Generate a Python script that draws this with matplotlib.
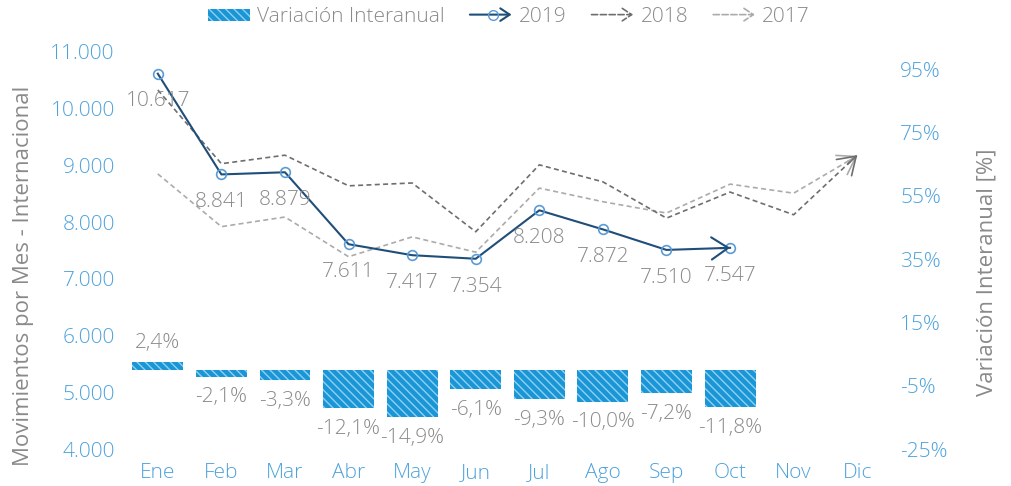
import matplotlib
matplotlib.use("Agg")
import matplotlib.pyplot as plt
from matplotlib.lines import Line2D
from matplotlib.patches import Rectangle, FancyArrowPatch
from matplotlib.legend_handler import HandlerBase
from matplotlib.ticker import FuncFormatter
import numpy as np

plt.rcParams['font.family'] = ['Open Sans', 'DejaVu Sans']
plt.rcParams['font.weight'] = 'light'
plt.rcParams['hatch.linewidth'] = 1.0

meses = ["Ene", "Feb", "Mar", "Abr", "May", "Jun", "Jul", "Ago", "Sep", "Oct", "Nov", "Dic"]
mov_2019 = [10617, 8841, 8879, 7611, 7417, 7354, 8208, 7872, 7510, 7547]
mov_2018 = [10330, 9030, 9180, 8640, 8690, 7830, 9010, 8710, 8070, 8530, 8130, 9180]
mov_2017 = [8850, 7920, 8090, 7390, 7740, 7470, 8600, 8360, 8160, 8670, 8510, 9170]
variacion = [2.4, -2.1, -3.3, -12.1, -14.9, -6.1, -9.3, -10.0, -7.2, -11.8]

AZUL_BARRA = "#1a96d6"
RAYA = "#8fd0f2"
AZUL_2019 = "#1f4e79"
AZUL_MARCA = "#5b9bd5"
GRIS_2018 = "#6e6e6e"
GRIS_2017 = "#ababab"
GRIS_TXT = "#8a8a8a"
AZUL_TICK = "#4ea2dc"
FS = 15


class ArrowHandler(HandlerBase):
    """legend entry: line ending in an open arrow head"""
    def create_artists(self, legend, orig, xd, yd, width, height, fontsize, trans):
        y = height / 2 - yd
        arts = [FancyArrowPatch((-xd, y), (-xd + width, y),
                                arrowstyle="->,head_length=0.45,head_width=0.3",
                                mutation_scale=fontsize, color=orig.get_color(),
                                lw=orig.get_linewidth(), linestyle=orig.get_linestyle(),
                                transform=trans, shrinkA=0, shrinkB=0)]
        if orig.get_marker() not in (None, "None", ""):
            arts.append(Line2D([-xd + width * 0.55], [y], marker="o", ms=orig.get_markersize(),
                               mfc="none", mec=orig.get_markeredgecolor(), ls="none",
                               transform=trans))
        return arts


fig = plt.figure(figsize=(10.12, 4.86), dpi=100)
ax = fig.add_axes([0.1245, 0.0761, 0.754, 0.817])
ax2 = ax.twinx()

x = np.arange(len(meses))

# bars on the right (percent) axis
ax2.bar(x[:len(variacion)], variacion, width=0.8, color=AZUL_BARRA, edgecolor=RAYA,
        linewidth=0, hatch="\\\\\\\\")
for i, v in enumerate(variacion):
    txt = ("%.1f%%" % v).replace(".", ",")
    off = 14 if v > 0 else -15
    ax2.annotate(txt, (i, v), xytext=(0, off), textcoords="offset points",
                 ha="center", va="center", fontsize=FS, color=GRIS_TXT)
ax2.set_ylim(-25, 100.5)
ax2.set_yticks(np.arange(-25, 96, 20))
ax2.yaxis.set_major_formatter(FuncFormatter(lambda v, p: "%d%%" % v))

# lines on the left axis, drawn above the bars
ax.set_zorder(ax2.get_zorder() + 1)
ax.patch.set_visible(False)


def linea(vals, color, ls, lw, marker=None):
    xs = x[:len(vals)]
    ax.plot(xs, vals, color=color, ls=ls, lw=lw, marker=marker, ms=7, mfc="none",
            mec=AZUL_MARCA, mew=1.2)
    # arrow head on the last point
    xa = xs[-2] + 0.85 * (xs[-1] - xs[-2])
    ya = vals[-2] + 0.85 * (vals[-1] - vals[-2])
    ax.annotate("", xy=(xs[-1], vals[-1]), xytext=(xa, ya),
                arrowprops=dict(arrowstyle="->,head_length=0.6,head_width=0.4",
                                mutation_scale=20, color=color, lw=lw,
                                shrinkA=0, shrinkB=0))


linea(mov_2017, GRIS_2017, (0, (3, 2)), 1.2)
linea(mov_2018, GRIS_2018, (0, (3, 2)), 1.2)
linea(mov_2019, AZUL_2019, "-", 1.5, marker="o")

for i, v in enumerate(mov_2019):
    ax.annotate(f"{v:,}".replace(",", "."), (i, v), xytext=(0, -20),
                textcoords="offset points", ha="center", va="center",
                fontsize=FS, color=GRIS_TXT)

ax.set_ylim(4000, 11000)
ax.set_yticks(np.arange(4000, 11001, 1000))
ax.yaxis.set_major_formatter(FuncFormatter(lambda v, p: f"{int(v):,}".replace(",", ".")))
ax.set_xlim(-0.5, 11.5)
ax.set_xticks(x)
ax.set_xticklabels(meses)

for a in (ax, ax2):
    for s in a.spines.values():
        s.set_visible(False)
    a.tick_params(length=0, labelsize=FS, colors=AZUL_TICK, pad=8)
ax.tick_params(axis="x", pad=10)

ax.set_ylabel("Movimientos por Mes - Internacional", fontsize=16, color=GRIS_TXT)
ax.yaxis.set_label_coords(-0.12, 0.436)
ax2.set_ylabel("Variación Interanual [%]", fontsize=16, color=GRIS_TXT, rotation=90)
ax2.yaxis.set_label_coords(1.115, 0.446)

handles = [
    Rectangle((0, 0), 1, 1, facecolor=AZUL_BARRA, edgecolor=RAYA, linewidth=0, hatch="\\\\\\\\"),
    Line2D([], [], color=AZUL_2019, lw=1.5, marker="o", ms=7, mec=AZUL_MARCA),
    Line2D([], [], color=GRIS_2018, lw=1.2, ls=(0, (3, 2))),
    Line2D([], [], color=GRIS_2017, lw=1.2, ls=(0, (3, 2))),
]
labels = ["Variación Interanual", "2019", "2018", "2017"]
fig.legend(handles, labels, loc="center", bbox_to_anchor=(0.503, 0.965), ncol=4, frameon=False,
           fontsize=FS, labelcolor=GRIS_TXT, handlelength=2.0, handleheight=0.5,
           columnspacing=1.2, handletextpad=0.35,
           handler_map={Line2D: ArrowHandler()})

fig.savefig("out.png", dpi=100)
